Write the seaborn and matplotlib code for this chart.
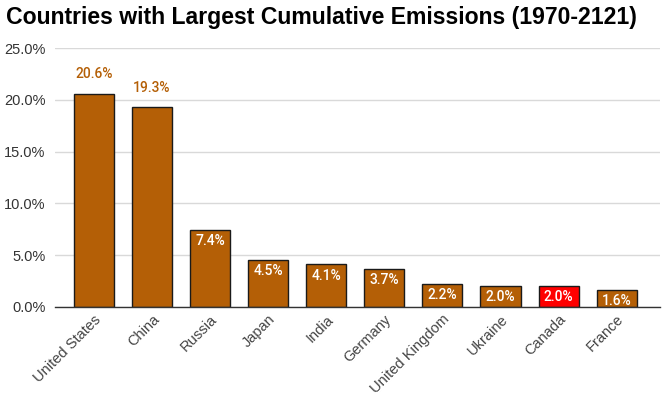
import matplotlib
matplotlib.use("Agg")
import matplotlib.pyplot as plt
import seaborn as sns
import pandas as pd
from matplotlib.ticker import FuncFormatter

countries = ["United States", "China", "Russia", "Japan", "India", "Germany",
             "United Kingdom", "Ukraine", "Canada", "France"]
shares = [20.6, 19.3, 7.4, 4.5, 4.1, 3.7, 2.2, 2.0, 2.0, 1.6]
highlight = "Canada"
title = "Countries with Largest Cumulative Emissions (1970-2121)"

base_color = "#b45f06"
hi_color = "#ff0000"

df = pd.DataFrame({"country": countries, "share": shares})
palette = {c: (hi_color if c == highlight else base_color) for c in countries}

sns.set_theme(style="white")
plt.rcParams["font.family"] = ["Liberation Sans", "DejaVu Sans"]

fig = plt.figure(figsize=(6.63, 3.98), dpi=100)
ax = fig.add_axes([0.083, 0.229, 0.912, 0.650])

sns.barplot(data=df, x="country", y="share", hue="country", palette=palette,
            legend=False, width=0.69, edgecolor="#1a1a1a", linewidth=1.0,
            saturation=1, ax=ax, zorder=3)

ax.set_ylim(0, 25)
ax.set_xlim(-0.67, 9.74)
ax.set_yticks([0, 5, 10, 15, 20, 25])
ax.yaxis.set_major_formatter(FuncFormatter(lambda v, p: f"{v:.1f}%"))
ax.grid(axis="y", color="#d9d9d9", linewidth=1.0, zorder=0)
ax.set_axisbelow(True)
for s in ["left", "right", "top"]:
    ax.spines[s].set_visible(False)
ax.spines["bottom"].set_color("#333333")
ax.spines["bottom"].set_linewidth(1.0)
ax.spines["bottom"].set_zorder(4)
ax.set_xlabel("")
ax.set_ylabel("")
ax.tick_params(axis="y", length=0, pad=7, labelsize=10.5, labelcolor="#333333")
ax.tick_params(axis="x", length=0, pad=4, labelsize=10.5, labelcolor="#444444")
plt.setp(ax.get_xticklabels(), rotation=45, ha="right", rotation_mode="anchor")

for i, (c, v) in enumerate(zip(countries, shares)):
    if v > 10:
        ax.annotate(f"{v:.1f}%", (i, v), xytext=(0, 14), textcoords="offset points",
                    ha="center", va="center", fontsize=10, color=base_color,
                    family=["Roboto", "DejaVu Sans"], fontweight="medium")
    else:
        ax.annotate(f"{v:.1f}%", (i, v), xytext=(0, -8), textcoords="offset points",
                    ha="center", va="center", fontsize=10, color="white",
                    family=["Roboto", "DejaVu Sans"], fontweight="medium", zorder=5)

fig.text(0.009, 0.955, title, ha="left", va="center", fontsize=16.6,
         fontweight="bold", color="black")

fig.savefig("out.png", dpi=100)
